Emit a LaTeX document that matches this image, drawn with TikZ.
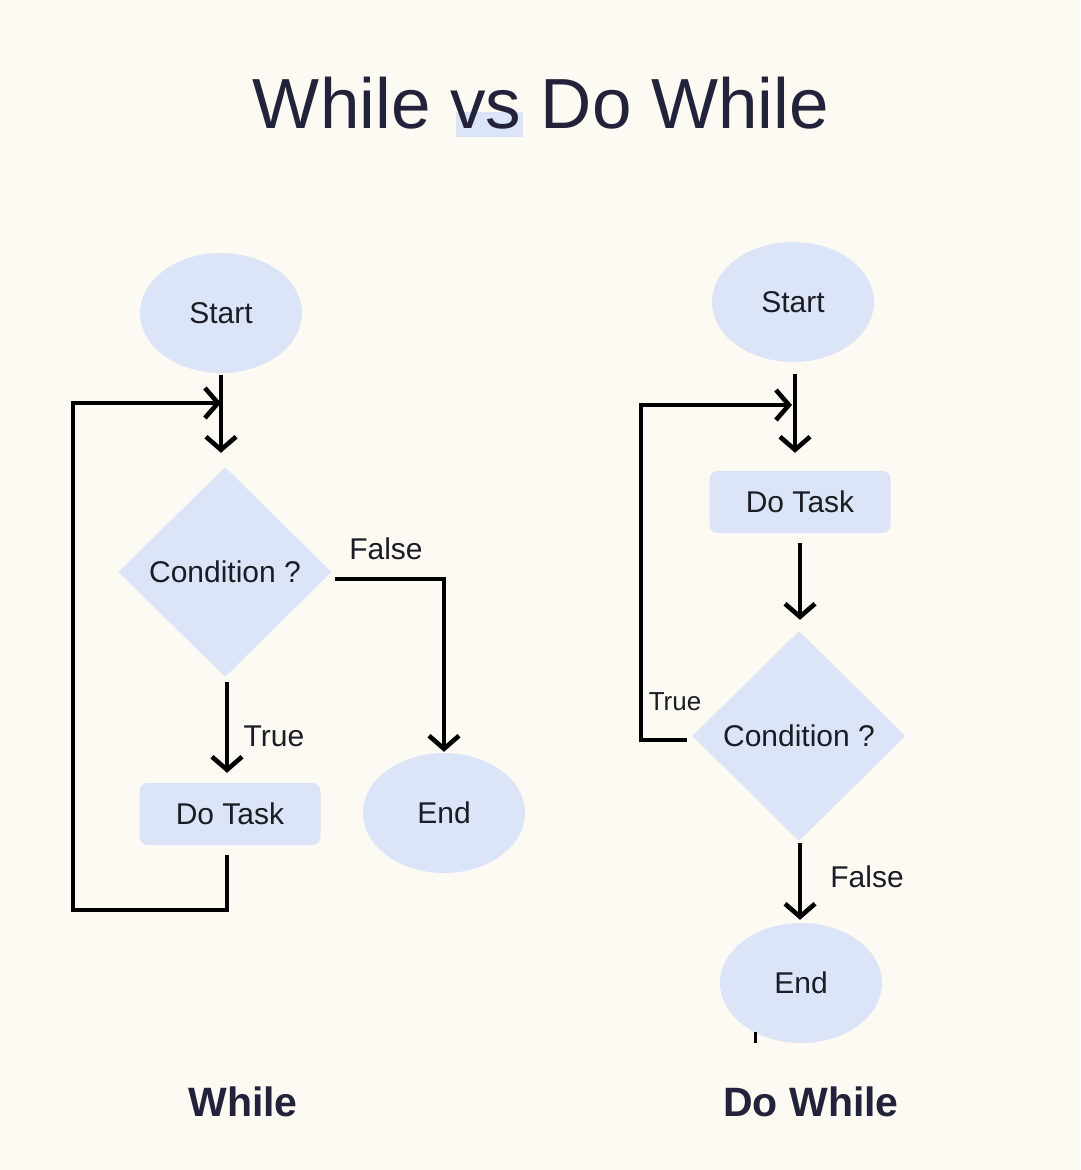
\documentclass[tikz,border=0pt]{standalone}
\usepackage{fontspec}
\setmainfont{Liberation Sans}
\usetikzlibrary{shapes.geometric,arrows.meta}
\definecolor{bgc}{HTML}{FDFAF3}
\definecolor{nodec}{HTML}{DCE5F7}
\definecolor{titlec}{HTML}{22223A}
\definecolor{txtc}{HTML}{1C1C24}
\tikzset{
  base/.style={fill=nodec, draw=none, text=txtc, font=\fontsize{30}{36}\selectfont, inner sep=0pt},
  oval/.style={base, ellipse, minimum width=162pt, minimum height=120pt},
  taskbox/.style={base, rectangle, rounded corners=8pt, minimum width=181pt, minimum height=62pt},
  decision/.style={base, diamond, minimum width=213pt, minimum height=210pt},
  lbl/.style={text=txtc, font=\fontsize{30}{36}\selectfont, inner sep=0pt},
  conn/.style={line width=4.6pt, black},
  arr/.style={conn, -{Straight Barb[length=13pt,width=30pt,line width=4.6pt]}},
}
\begin{document}
\begin{tikzpicture}[x=1pt,y=-1pt]
\fill[bgc] (0,0) rectangle (1080,1170);
\useasboundingbox (0,0) rectangle (1080,1170);
% title
\fill[nodec] (456,112) rectangle (523,137);
\node[text=titlec, font=\fontsize{71}{80}\selectfont, inner sep=0pt] (title) at (541,103) {While vs Do While};

% ---------- While ----------
\node[oval] (ls) at (221,313) {Start};
\node[decision] (ld) at (225,572) {Condition ?};
\node[taskbox] (lt) at (230,814) {Do Task};
\node[oval] (le) at (444,813) {End};
\coordinate (lj) at (221,403);
\coordinate (lb) at (73,910);
\coordinate (ltop) at (73,403);

\draw[arr, shorten <=2pt, shorten >=14pt] (ls.south) -- (ld.north -| ls.south);
\draw[arr] ([xshift=-3pt,yshift=-10pt]lt.south) |- (lb) -- (ltop) -- (lj);
\draw[arr, shorten <=5pt, shorten >=10pt] ([xshift=2pt]ld.south) -- ([xshift=2pt]ld.south |- lt.north);
\draw[arr, shorten >=1pt] ([xshift=3pt,yshift=-7pt]ld.east) -| (le.north);
\node[lbl] (lfalse) at (386,549) {False};
\node[lbl] (ltrue) at (274,736) {True};
\node[font=\fontsize{41}{48}\selectfont\bfseries, text=titlec, inner sep=0pt] (lcap) at (243,1102) {While};

% ---------- Do While ----------
\node[oval] (rs) at (793,302) {Start};
\node[taskbox] (rt) at (800,502) {Do Task};
\node[decision] (rd) at (799,736) {Condition ?};
\node[oval] (re) at (801,983) {End};
\coordinate (rj) at (792,405);
\coordinate (rb) at (641,740);
\coordinate (rtop) at (641,405);

\draw[arr, shorten <=12pt, shorten >=18pt] ([xshift=2pt]rs.south) -- ([xshift=2pt]rs.south |- rt.north);
\draw[arr] ([xshift=-5pt,yshift=-4pt]rd.west) -- (rb) -- (rtop) -- (rj);
\draw[arr, shorten <=10pt, shorten >=11pt] (rt.south) -- (rt.south |- rd.north);
\draw[arr, shorten <=2pt, shorten >=3pt] ([xshift=1pt]rd.south) -- ([xshift=1pt]rd.south |- re.north);
\node[lbl, font=\fontsize{26}{30}\selectfont] (rtrue) at (675,702) {True};
\node[lbl] (rfalse) at (867,877) {False};
\draw[line width=3pt] (755,1032) -- (755,1043);
\node[font=\fontsize{41}{48}\selectfont\bfseries, text=titlec, inner sep=0pt] (rcap) at (811,1102) {Do While};
\end{tikzpicture}
\end{document}
